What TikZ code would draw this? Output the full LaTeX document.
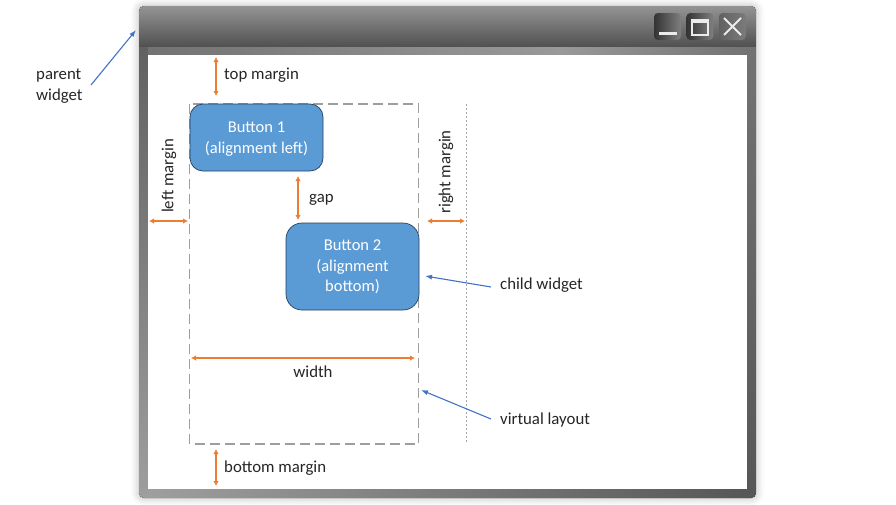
\documentclass[tikz,border=0pt]{standalone}
\usepackage{fontspec}
\setmainfont{Carlito}
\usetikzlibrary{positioning,arrows.meta,shadows.blur}
\definecolor{btnblue}{HTML}{5B9BD5}
\definecolor{btnedge}{HTML}{24405C}
\definecolor{dimorange}{HTML}{ED7D31}
\definecolor{callblue}{HTML}{4472C4}
\tikzset{
	button/.style = {draw=btnedge, line width=0.7pt, fill=btnblue, text=white, rounded corners=13pt, align=center, inner sep=0pt, font=\fontsize{16.5}{20.4}\selectfont},
	label/.style = {inner sep=0pt, text=black!85, align=left, font=\fontsize{16.8}{21}\selectfont},
	dim/.style = {draw=dimorange, line width=1.4pt, {Latex[length=5pt,width=5.5pt]}-{Latex[length=5pt,width=5.5pt]}},
	call/.style = {draw=callblue, line width=1.1pt, -{Latex[length=7pt,width=5pt]}},
	winbtn/.style = {minimum width=27pt, minimum height=27pt, inner sep=0pt, rounded corners=4pt, left color=black!80, right color=black!50},
}
\begin{document}
\begin{tikzpicture}[x=1pt, y=-1pt]
	\useasboundingbox (0,0) rectangle (896,504);
	% window frame
	\path[blur shadow={shadow xshift=0pt, shadow yshift=0pt, shadow blur radius=8pt, shadow opacity=30}, fill=black!50, rounded corners=5pt] (139,6) rectangle (756,498);
	\begin{scope}
		\clip[rounded corners=5pt] (139,6) rectangle (756,498);
		\fill[top color=black!62, bottom color=black!38] (139,46) rectangle (148,498);
		\fill[top color=black!55, bottom color=black!66] (747,46) rectangle (756,498);
		\fill[left color=black!38, right color=black!66] (148,489) rectangle (747,498);
		\fill[left color=black!55, right color=black!40] (148,46) rectangle (560,55);
		\fill[left color=black!40, right color=black!55] (560,46) rectangle (747,55);
		\fill[top color=black!42, bottom color=black!68] (139,6) rectangle (756,46);
	\end{scope}
	\fill[white] (148,55) rectangle (747,489);
	% window buttons
	\node[winbtn] (minbtn) at (667.5,26.5) {};
	\node[winbtn] (maxbtn) [right=5pt of minbtn] {};
	\node[winbtn, left color=black!62, right color=black!52] (closebtn) [right=5pt of maxbtn] {};
	\fill[white!92!black] (659,32) rectangle (677,35);
	\draw[white!92!black, line width=1.5pt] (692,20) rectangle (708,35);
	\fill[white!92!black] (691,19) rectangle (709,23);
	\draw[white!92!black, line width=1.8pt] (724,18) -- (741,35) (741,18) -- (724,35);
	% layout
	\draw[black!38, dash pattern=on 10pt off 5pt, line width=1.1pt] (189.5,104) rectangle (418.5,444);
	\draw[black!35, dash pattern=on 2pt off 2pt, line width=0.7pt] (466,104) -- (466,444);
	\node[button, minimum width=133pt, minimum height=67pt] (btn1) at (256.5,137.5) {\\[-6.5pt]Button 1\\(alignment left)};
	\node[button, rounded corners=16pt, minimum width=133pt, minimum height=87pt] (btn2) at (352.5,266.5) {\\[-8.5pt]Button 2\\(alignment\\bottom)};
	% free ends
	\coordinate (tm1) at (216,57);
	\coordinate (tm2) at (216,96);
	\coordinate (lm1) at (149,221);
	\coordinate (lm2) at (188,221);
	\coordinate (rm1) at (427,221);
	\coordinate (rm2) at (465,221);
	\coordinate (gap1) at (298,176);
	\coordinate (gap2) at (298,220);
	\coordinate (wd1) at (191,358);
	\coordinate (wd2) at (415,358);
	\coordinate (bm1) at (216,449);
	\coordinate (bm2) at (216,486);
	\coordinate (pw) at (136,30);
	\coordinate (cw) at (425,276);
	\coordinate (vl) at (421,390);
	% labels
	\node[label, anchor=west] (toplbl) at (224,75) {top margin};
	\node[label, anchor=west] (botlbl) at (224,468) {bottom margin};
	\node[label, rotate=90] (leftlbl) at (169,176) {left margin};
	\node[label, rotate=90] (rightlbl) at (446,172) {right margin};
	\node[label, anchor=west] (gaplbl) at (309,200) {gap};
	\node[label] (widthlbl) at (313,372) {width};
	\node[label, anchor=west] (parentlbl) at (36,86) {parent\\widget};
	\node[label, anchor=west] (childlbl) at (500,285) {child widget};
	\node[label, anchor=west] (virtlbl) at (500,420) {virtual layout};
	\coordinate (pwfrom) at (91,85);
	\coordinate (cwfrom) at (491,287);
	\coordinate (vlfrom) at (491,419);
	% arrows
	\draw[dim] (tm1) -- (tm2);
	\draw[dim] (lm1) -- (lm2);
	\draw[dim] (rm1) -- (rm2);
	\draw[dim] (gap1) -- (gap2);
	\draw[dim] (wd1) -- (wd2);
	\draw[dim] (bm1) -- (bm2);
	\draw[call] (pwfrom) -- (pw);
	\draw[call] (cwfrom) -- (cw);
	\draw[call] (vlfrom) -- (vl);
\end{tikzpicture}
\end{document}
